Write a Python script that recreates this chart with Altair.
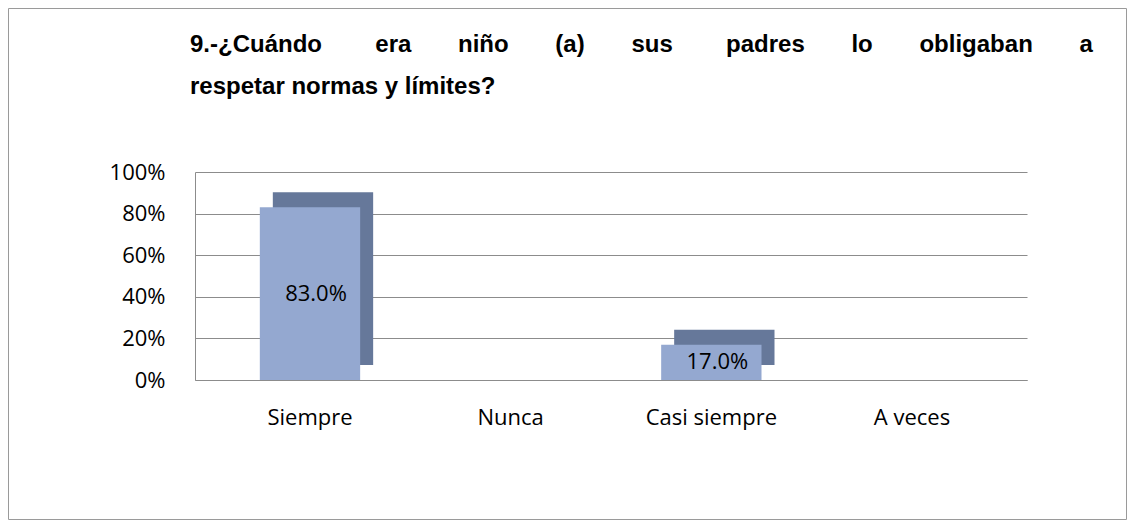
import altair as alt
import pandas as pd

categories = ["Siempre", "Nunca", "Casi siempre", "A veces"]
values = [0.83, 0.0, 0.17, 0.0]
value_labels = ["83.0%", "", "17.0%", ""]
title_lines = ["9.-¿Cuándo era niño (a) sus padres lo obligaban a",
               "respetar normas y límites?"]

# justify first title line with non-breaking spaces
NB = "\u00a0"
words = title_lines[0].split(" ")
gap_counts = [7, 6, 6, 6, 7, 6, 6, 6]
line1 = words[0]
for w, g in zip(words[1:], gap_counts):
    line1 += " " + NB * g + w
title_text = [line1, title_lines[1]]

df = pd.DataFrame({"cat": categories, "val": values, "lab": value_labels})

W, H = 832, 208
PL, PT = 187, 164
TOTAL_W, TOTAL_H = 1120, 513
TITLE_FONT = "Liberation Sans"

base = alt.Chart(df).encode(
    x=alt.X("cat:N", sort=categories,
            scale=alt.Scale(domain=categories, paddingInner=0.5, paddingOuter=0.323),
            axis=alt.Axis(title=None, labelAngle=0, ticks=False, domain=True,
                          domainColor="#8c8c8c", labelFont="Open Sans",
                          labelFontSize=22, labelColor="#000000",
                          labelPadding=27)),
)

yenc = alt.Y("val:Q", scale=alt.Scale(domain=[0, 1]),
             axis=alt.Axis(title=None, format=".0%",
                           values=[0, 0.2, 0.4, 0.6, 0.8, 1.0],
                           grid=True, gridColor="#8c8c8c", gridWidth=1.2,
                           domainColor="#8c8c8c", ticks=False,
                           labelFont="Open Sans", labelFontSize=22,
                           labelColor="#000000", labelPadding=30))

back = base.transform_filter("datum.val > 0").mark_bar(
    color="#66789a", xOffset=13, yOffset=-15).encode(y=yenc)
front = base.transform_filter("datum.val > 0").mark_bar(
    color="#94a8d0").encode(y=yenc)
text = base.transform_filter("datum.val > 0").transform_calculate(
    mid="datum.val / 2").mark_text(
    font="Open Sans", fontSize=22, color="#000000", dx=6).encode(
    y=alt.Y("mid:Q"), text="lab:N")

border = alt.Chart(alt.Data(values=[{}])).mark_rect(
    fillOpacity=0, stroke="#9a9a9a", strokeWidth=1).encode(
    x=alt.value(-PL + 0.5), x2=alt.value(TOTAL_W - PL - 1.5),
    y=alt.value(-PT + 0.5), y2=alt.value(TOTAL_H - PT - 1.5))

title_df = pd.DataFrame({"t": title_text, "line": [0, 1]})
title1 = alt.Chart(title_df).transform_filter("datum.line == 0").mark_text(
    align="left", baseline="alphabetic", font=TITLE_FONT,
    fontSize=24, fontWeight="bold", color="#000000").encode(
    x=alt.value(-5), y=alt.value(-120), text="t:N")
title2 = alt.Chart(title_df).transform_filter("datum.line == 1").mark_text(
    align="left", baseline="alphabetic", font=TITLE_FONT,
    fontSize=24, fontWeight="bold", color="#000000").encode(
    x=alt.value(-5), y=alt.value(-78), text="t:N")

chart = alt.layer(border, back, front, text, title1, title2).properties(
    width=W, height=H,
    autosize=alt.AutoSizeParams(type="none"),
    padding={"left": PL, "top": PT, "right": TOTAL_W - PL - W,
             "bottom": TOTAL_H - PT - H},
).configure_view(stroke=None)

chart.save("out.html", embed_options={"renderer": "svg", "actions": False})
